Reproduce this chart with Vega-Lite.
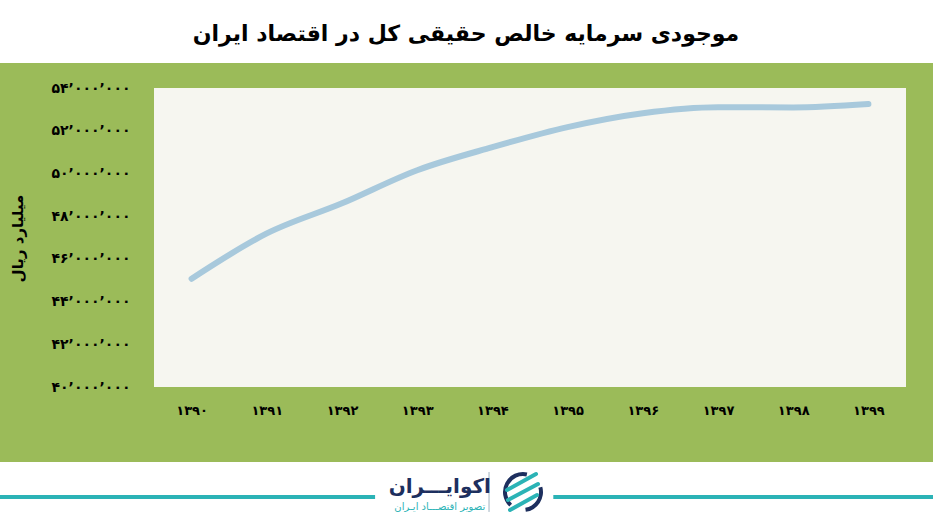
{
  "$schema": "https://vega.github.io/schema/vega-lite/v6.json",
  "width": 752,
  "height": 299,
  "autosize": {"type": "none"},
  "padding": {"left": 154, "top": 88, "right": 27, "bottom": 142},
  "background": "#ffffff",
  "title": {
    "text": "موجودی سرمایه خالص حقیقی کل در اقتصاد ایران",
    "font": "DejaVu Sans",
    "fontSize": 22,
    "fontWeight": "bold",
    "color": "#000000",
    "anchor": "middle",
    "frame": "group",
    "dx": -64,
    "offset": 17
  },
  "config": {
    "view": {"stroke": null},
    "axis": {"grid": false, "domain": false, "ticks": false, "labelFont": "DejaVu Sans", "titleFont": "DejaVu Sans"}
  },
  "data": {
    "values": [
      {"year": 1390, "value": 45070000},
      {"year": 1391, "value": 47190000},
      {"year": 1392, "value": 48600000},
      {"year": 1393, "value": 50150000},
      {"year": 1394, "value": 51230000},
      {"year": 1395, "value": 52170000},
      {"year": 1396, "value": 52820000},
      {"year": 1397, "value": 53100000},
      {"year": 1398, "value": 53090000},
      {"year": 1399, "value": 53250000}
    ]
  },
  "layer": [
    {
      "data": {"values": [{}]},
      "mark": {"type": "rect", "color": "#9bbb59"},
      "encoding": {
        "x": {"datum": 1387.45, "type": "quantitative", "scale": {"domain": [1389.5, 1399.5], "nice": false, "zero": false}},
        "x2": {"datum": 1399.86},
        "y": {"datum": 55170000, "type": "quantitative", "scale": {"domain": [40000000, 54000000], "nice": false, "zero": false}},
        "y2": {"datum": 36490000}
      }
    },
    {
      "data": {"values": [{}]},
      "mark": {"type": "rect", "color": "#f6f6f0"},
      "encoding": {
        "x": {"datum": 1389.5, "type": "quantitative"},
        "x2": {"datum": 1399.5},
        "y": {"datum": 40000000, "type": "quantitative"},
        "y2": {"datum": 54000000}
      }
    },
    {
      "mark": {"type": "line", "interpolate": "monotone", "color": "#a8c9dc", "strokeWidth": 6, "strokeCap": "round"},
      "encoding": {
        "x": {
          "field": "year",
          "type": "quantitative",
          "axis": {
            "zindex": 2,
            "values": [1390, 1391, 1392, 1393, 1394, 1395, 1396, 1397, 1398, 1399],
            "title": null,
            "labelPadding": 17,
            "labelFontSize": 13,
            "labelFontWeight": "bold",
            "labelColor": "#000000",
            "labelExpr": "replace(replace(replace(replace(replace(replace(replace(replace(replace(replace(format(datum.value, 'd'), regexp('0','g'), '۰'), regexp('1','g'), '۱'), regexp('2','g'), '۲'), regexp('3','g'), '۳'), regexp('4','g'), '۴'), regexp('5','g'), '۵'), regexp('6','g'), '۶'), regexp('7','g'), '۷'), regexp('8','g'), '۸'), regexp('9','g'), '۹')"
          }
        },
        "y": {
          "field": "value",
          "type": "quantitative",
          "axis": {
            "zindex": 2,
            "values": [40000000, 42000000, 44000000, 46000000, 48000000, 50000000, 52000000, 54000000],
            "labelPadding": 24,
            "labelFontSize": 14,
            "labelFontWeight": "bold",
            "labelColor": "#000000",
            "labelExpr": "replace(replace(replace(replace(replace(replace(replace(replace(replace(replace(replace(format(datum.value, ','), regexp(',','g'), '’'), regexp('0','g'), '۰'), regexp('1','g'), '۱'), regexp('2','g'), '۲'), regexp('3','g'), '۳'), regexp('4','g'), '۴'), regexp('5','g'), '۵'), regexp('6','g'), '۶'), regexp('7','g'), '۷'), regexp('8','g'), '۸'), regexp('9','g'), '۹')",
            "title": "میلیارد ریال",
            "titleX": -137,
            "titleY": 150,
            "titleAngle": -90,
            "titleAlign": "center",
            "titleBaseline": "middle",
            "titleFontSize": 15,
            "titleFontWeight": "bold",
            "titleColor": "#000000"
          }
        }
      }
    },
    {
      "data": {"values": [{}]},
      "mark": {"type": "rule", "color": "#2bb3b6", "strokeWidth": 4},
      "encoding": {
        "x": {"datum": 1387.45, "type": "quantitative"},
        "x2": {"datum": 1392.44},
        "y": {"datum": 34850000, "type": "quantitative"}
      }
    },
    {
      "data": {"values": [{}]},
      "mark": {"type": "rule", "color": "#2bb3b6", "strokeWidth": 4},
      "encoding": {
        "x": {"datum": 1394.81, "type": "quantitative"},
        "x2": {"datum": 1399.86},
        "y": {"datum": 34850000, "type": "quantitative"}
      }
    },
    {
      "data": {"values": [{}]},
      "mark": {"type": "rule", "color": "#9fb3c0", "strokeWidth": 1},
      "encoding": {
        "x": {"datum": 1393.955, "type": "quantitative"},
        "y": {"datum": 36020000, "type": "quantitative"},
        "y2": {"datum": 34150000}
      }
    },
    {
      "data": {"values": [{}]},
      "mark": {"type": "arc", "color": "#1d2f5e", "radius": 20, "radius2": 16, "theta": 3.9, "theta2": 6.5},
      "encoding": {
        "x": {"datum": 1394.407, "type": "quantitative"},
        "y": {"datum": 35083000, "type": "quantitative"}
      }
    },
    {
      "data": {"values": [{}]},
      "mark": {"type": "arc", "color": "#1d2f5e", "radius": 20, "radius2": 16, "theta": 1.3, "theta2": 3.0},
      "encoding": {
        "x": {"datum": 1394.407, "type": "quantitative"},
        "y": {"datum": 35083000, "type": "quantitative"}
      }
    },
    {
      "data": {"values": [{"k": "a"}]},
      "mark": {"type": "rule", "color": "#2bb3b6", "strokeWidth": 4, "strokeCap": "round"},
      "encoding": {
        "x": {"datum": 1394.194, "type": "quantitative"},
        "x2": {"datum": 1394.58},
        "y": {"datum": 35177000, "type": "quantitative"},
        "y2": {"datum": 35926000}
      }
    },
    {
      "data": {"values": [{"k": "b"}]},
      "mark": {"type": "rule", "color": "#2bb3b6", "strokeWidth": 4, "strokeCap": "round"},
      "encoding": {
        "x": {"datum": 1394.207, "type": "quantitative"},
        "x2": {"datum": 1394.606},
        "y": {"datum": 34709000, "type": "quantitative"},
        "y2": {"datum": 35458000}
      }
    },
    {
      "data": {"values": [{"k": "c"}]},
      "mark": {"type": "rule", "color": "#2bb3b6", "strokeWidth": 4, "strokeCap": "round"},
      "encoding": {
        "x": {"datum": 1394.234, "type": "quantitative"},
        "x2": {"datum": 1394.593},
        "y": {"datum": 34240000, "type": "quantitative"},
        "y2": {"datum": 34943000}
      }
    },
    {
      "data": {"values": [{"t": "اکوایـــران"}]},
      "mark": {"type": "text", "font": "DejaVu Sans", "fontSize": 20, "fontWeight": "bold", "color": "#1d2f5e", "align": "center", "baseline": "middle"},
      "encoding": {
        "x": {"datum": 1393.3, "type": "quantitative"},
        "y": {"datum": 35317000, "type": "quantitative"},
        "text": {"field": "t"}
      }
    },
    {
      "data": {"values": [{"t": "تصویر اقتصـــاد ایـران"}]},
      "mark": {"type": "text", "font": "DejaVu Sans", "fontSize": 10, "color": "#2bb3b6", "align": "center", "baseline": "middle"},
      "encoding": {
        "x": {"datum": 1393.3, "type": "quantitative"},
        "y": {"datum": 34381000, "type": "quantitative"},
        "text": {"field": "t"}
      }
    }
  ]
}
